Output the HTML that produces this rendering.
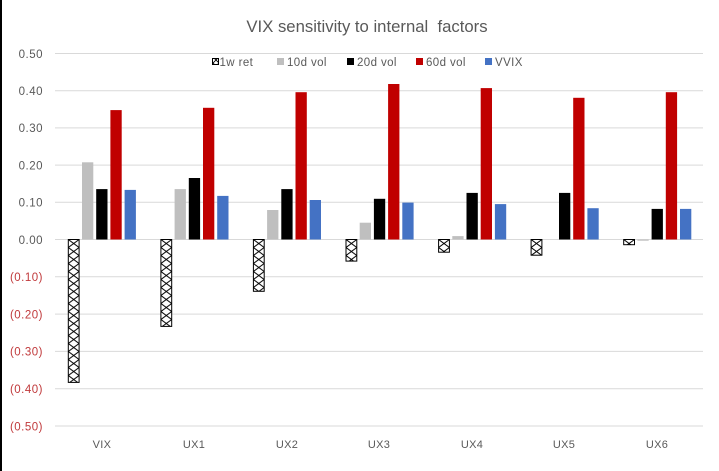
<!DOCTYPE html>
<html><head><meta charset="utf-8">
<style>
html,body{margin:0;padding:0;background:#fff;}
svg{display:block;}
text{font-family:"Liberation Sans",sans-serif;}
</style></head>
<body>
<svg width="719" height="471" viewBox="0 0 719 471" xmlns="http://www.w3.org/2000/svg">
<defs>
<pattern id="hx" patternUnits="userSpaceOnUse" width="6" height="6">
<rect width="6" height="6" fill="#fff"/>
<path d="M0,0 L6,6 M6,0 L0,6" stroke="#000" stroke-width="0.9"/>
</pattern>
<pattern id="h0" patternUnits="userSpaceOnUse" x="68.3" y="239.5" width="10.8" height="8"><rect width="10.8" height="8" fill="#fff"/><path d="M0,0 L10.8,8 M10.8,0 L0,8" stroke="#000" stroke-width="1"/></pattern>
<pattern id="h1" patternUnits="userSpaceOnUse" x="160.9" y="239.5" width="10.8" height="8"><rect width="10.8" height="8" fill="#fff"/><path d="M0,0 L10.8,8 M10.8,0 L0,8" stroke="#000" stroke-width="1"/></pattern>
<pattern id="h2" patternUnits="userSpaceOnUse" x="253.4" y="239.5" width="10.8" height="8"><rect width="10.8" height="8" fill="#fff"/><path d="M0,0 L10.8,8 M10.8,0 L0,8" stroke="#000" stroke-width="1"/></pattern>
<pattern id="h3" patternUnits="userSpaceOnUse" x="346" y="239.5" width="10.8" height="8"><rect width="10.8" height="8" fill="#fff"/><path d="M0,0 L10.8,8 M10.8,0 L0,8" stroke="#000" stroke-width="1"/></pattern>
<pattern id="h4" patternUnits="userSpaceOnUse" x="438.6" y="239.5" width="10.8" height="8"><rect width="10.8" height="8" fill="#fff"/><path d="M0,0 L10.8,8 M10.8,0 L0,8" stroke="#000" stroke-width="1"/></pattern>
<pattern id="h5" patternUnits="userSpaceOnUse" x="531.1" y="239.5" width="10.8" height="8"><rect width="10.8" height="8" fill="#fff"/><path d="M0,0 L10.8,8 M10.8,0 L0,8" stroke="#000" stroke-width="1"/></pattern>
<pattern id="h6" patternUnits="userSpaceOnUse" x="623.7" y="239.5" width="10.8" height="8"><rect width="10.8" height="8" fill="#fff"/><path d="M0,0 L10.8,8 M10.8,0 L0,8" stroke="#000" stroke-width="1"/></pattern>
</defs>
<rect x="0" y="0" width="719" height="471" fill="#fff"/>
<rect x="0" y="0" width="2" height="471" fill="#000"/>

<text x="367" y="32" font-size="16.7" fill="#595959" text-anchor="middle" style="white-space:pre">VIX sensitivity to internal  factors</text>

<g stroke="#d9d9d9" stroke-width="1">
<line x1="55" x2="703" y1="53.5" y2="53.5"/>
<line x1="55" x2="703" y1="90.7" y2="90.7"/>
<line x1="55" x2="703" y1="127.9" y2="127.9"/>
<line x1="55" x2="703" y1="165.1" y2="165.1"/>
<line x1="55" x2="703" y1="202.3" y2="202.3"/>
<line x1="55" x2="703" y1="239.5" y2="239.5"/>
<line x1="55" x2="703" y1="276.8" y2="276.8"/>
<line x1="55" x2="703" y1="314.1" y2="314.1"/>
<line x1="55" x2="703" y1="351.4" y2="351.4"/>
<line x1="55" x2="703" y1="388.7" y2="388.7"/>
<line x1="55" x2="703" y1="426" y2="426"/>
</g>

<g font-size="11.5" text-anchor="end" letter-spacing="0.5">
<text x="43" y="58" fill="#595959">0.50</text>
<text x="43" y="95" fill="#595959">0.40</text>
<text x="43" y="132" fill="#595959">0.30</text>
<text x="43" y="169.5" fill="#595959">0.20</text>
<text x="43" y="206.5" fill="#595959">0.10</text>
<text x="43" y="244" fill="#595959">0.00</text>
<text x="43" y="281" fill="#c0393b">(0.10)</text>
<text x="43" y="318.5" fill="#c0393b">(0.20)</text>
<text x="43" y="355.5" fill="#c0393b">(0.30)</text>
<text x="43" y="393" fill="#c0393b">(0.40)</text>
<text x="43" y="430.5" fill="#c0393b">(0.50)</text>
</g>

<!-- legend -->
<g font-size="11.5" fill="#595959" letter-spacing="0.4">
<rect x="212.5" y="58.5" width="6" height="6" fill="url(#hx)" stroke="#000" stroke-width="1"/>
<text x="219.5" y="66">1w ret</text>
<rect x="277" y="58" width="7" height="7" fill="#bfbfbf"/>
<text x="287" y="66">10d vol</text>
<rect x="347" y="58" width="7" height="7" fill="#000"/>
<text x="357" y="66">20d vol</text>
<rect x="416" y="58" width="7" height="7" fill="#c00000"/>
<text x="426" y="66">60d vol</text>
<rect x="485" y="58" width="7" height="7" fill="#4472c4"/>
<text x="495" y="66">VVIX</text>
</g>

<!-- 1w ret hatched -->
<g stroke="#000" stroke-width="1">
<rect x="68.3" y="239.5" width="10.8" height="142.9" fill="url(#h0)"/>
<rect x="160.9" y="239.5" width="10.8" height="86.9" fill="url(#h1)"/>
<rect x="253.4" y="239.5" width="10.8" height="51.8" fill="url(#h2)"/>
<rect x="346" y="239.5" width="10.8" height="21.6" fill="url(#h3)"/>
<rect x="438.6" y="239.5" width="10.8" height="12.7" fill="url(#h4)"/>
<rect x="531.1" y="239.5" width="10.8" height="15.7" fill="url(#h5)"/>
<rect x="623.7" y="239.5" width="10.8" height="5.2" fill="url(#h6)"/>
</g>

<!-- 10d vol -->
<g fill="#bfbfbf">
<rect x="82" y="162.3" width="11.3" height="77.2"/>
<rect x="174.6" y="189.1" width="11.3" height="50.4"/>
<rect x="267.1" y="210" width="11.3" height="29.5"/>
<rect x="359.7" y="222.7" width="11.3" height="16.8"/>
<rect x="452.3" y="236.1" width="11.3" height="3.4"/>
<rect x="637.4" y="239.5" width="11.3" height="1.2"/>
</g>

<!-- 20d vol -->
<g fill="#000">
<rect x="96.2" y="189.1" width="11.3" height="50.4"/>
<rect x="188.8" y="178" width="11.3" height="61.5"/>
<rect x="281.3" y="189.1" width="11.3" height="50.4"/>
<rect x="373.9" y="198.8" width="11.3" height="40.7"/>
<rect x="466.5" y="192.9" width="11.3" height="46.6"/>
<rect x="559" y="192.9" width="11.3" height="46.6"/>
<rect x="651.6" y="208.9" width="11.3" height="30.6"/>
</g>

<!-- 60d vol -->
<g fill="#c00000">
<rect x="110.4" y="110.1" width="11.3" height="129.4"/>
<rect x="203" y="107.8" width="11.3" height="131.7"/>
<rect x="295.5" y="92.2" width="11.3" height="147.3"/>
<rect x="388.1" y="84" width="11.3" height="155.5"/>
<rect x="480.7" y="88.1" width="11.3" height="151.4"/>
<rect x="573.2" y="97.8" width="11.3" height="141.7"/>
<rect x="665.8" y="92.2" width="11.3" height="147.3"/>
</g>

<!-- VVIX -->
<g fill="#4472c4">
<rect x="124.6" y="189.9" width="11.3" height="49.6"/>
<rect x="217.2" y="195.9" width="11.3" height="43.6"/>
<rect x="309.7" y="200" width="11.3" height="39.5"/>
<rect x="402.3" y="202.6" width="11.3" height="36.9"/>
<rect x="494.9" y="204.1" width="11.3" height="35.4"/>
<rect x="587.4" y="208.2" width="11.3" height="31.3"/>
<rect x="680" y="208.9" width="11.3" height="30.6"/>
</g>

<!-- category labels -->
<g font-size="11" fill="#595959" text-anchor="middle" letter-spacing="0.3">
<text x="102" y="448">VIX</text>
<text x="194" y="448">UX1</text>
<text x="287" y="448">UX2</text>
<text x="379" y="448">UX3</text>
<text x="472" y="448">UX4</text>
<text x="564" y="448">UX5</text>
<text x="657" y="448">UX6</text>
</g>
</svg>
</body></html>
